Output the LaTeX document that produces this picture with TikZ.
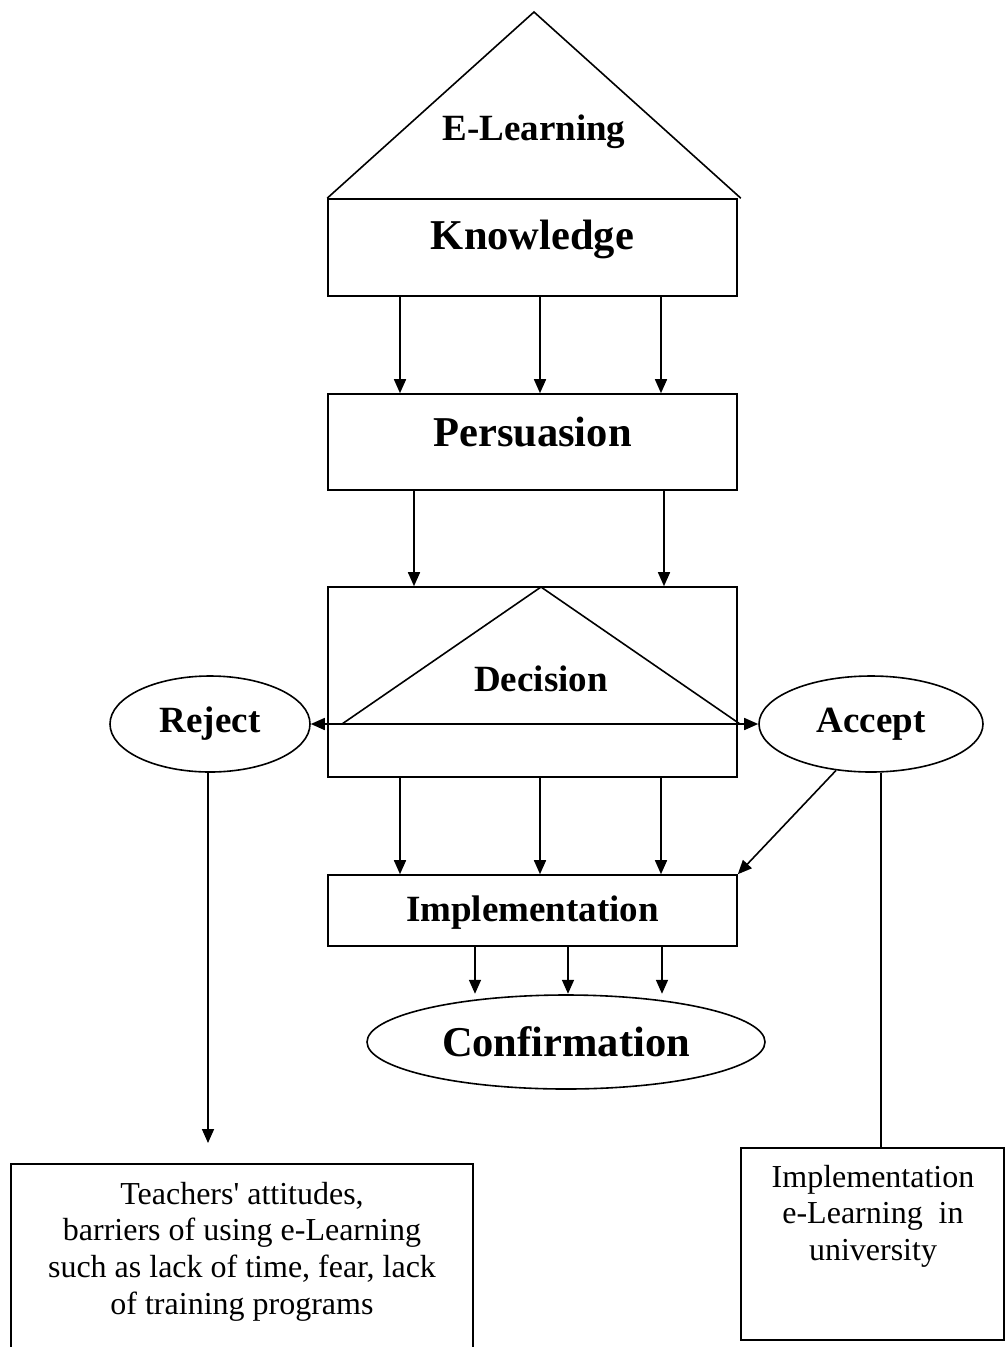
\documentclass[tikz,border=0pt]{standalone}
\usepackage{fontspec}
\setmainfont{Liberation Serif}
\usetikzlibrary{arrows.meta,shapes.geometric}
\begin{document}
\begin{tikzpicture}[x=1pt,y=-1pt,
  line width=1.6pt,
  arr/.style={-{Triangle[length=14pt,width=12pt]}},
  dbl/.style={{Triangle[length=14pt,width=12pt]}-{Triangle[length=14pt,width=12pt]}},
  box/.style={draw,rectangle,inner sep=0pt,minimum width=409pt},
  oval/.style={draw,ellipse,inner sep=0pt},
  bigb/.style={font=\fontsize{42.5}{50}\selectfont\bfseries},
  midb/.style={font=\fontsize{37}{44}\selectfont\bfseries},
  body/.style={font=\fontsize{32}{36.8}\selectfont,align=center,inner sep=0pt}
]
\useasboundingbox (0,0) rectangle (1007,1347);
\clip (0,0) rectangle (1007,1347);

% E-Learning roof and Knowledge box
\node[box,minimum height=97pt,bigb,text height=29pt,text depth=26pt] (know) at (532.5,247.5) {Knowledge};
\coordinate (apex) at (534,12);
\draw (know.north west) -- (apex) -- ([xshift=3pt]know.north east);
\node[midb] (elearn) at (534,132) {E-Learning};

% Persuasion
\node[box,minimum height=96pt,bigb,text height=29pt,text depth=21pt] (pers) at (532.5,442) {Persuasion};
\foreach \s in {-132.5,7.5,128.5}
  \draw[arr] ([xshift=\s pt]know.south) -- ([xshift=\s pt]pers.north);

% Decision
\node[box,minimum height=190pt] (dec) at (532.5,682) {};
\foreach \s in {-118.5,131.5}
  \draw[arr] ([xshift=\s pt]pers.south) -- ([xshift=\s pt]dec.north);
\draw (342,724) -- (541,587) -- (740,724) -- cycle;
\node[midb] (dectext) at (541,679) {Decision};

% Reject / Accept
\node[oval,minimum width=200pt,minimum height=96pt,midb] (rej) at (210,724) {Reject};
\node[oval,minimum width=224pt,minimum height=96pt,midb] (acc) at (871,724) {Accept};
\draw[dbl] (rej.east) -- (acc.west);

% Implementation
\node[box,minimum height=71pt,midb,text height=25.5pt,text depth=4pt] (imp) at (532.5,910.5) {Implementation};
\foreach \s in {-132.5,7.5,128.5}
  \draw[arr] ([xshift=\s pt]dec.south) -- ([xshift=\s pt]imp.north);
\draw[arr] (acc.233) -- (imp.north east);

% Confirmation
\node[oval,minimum width=398pt,minimum height=94pt,bigb] (conf) at (566,1042) {Confirmation};
\foreach \s in {-57.5,35.5,129.5}
  \draw[arr] ([xshift=\s pt]imp.south) -- ++(0,47);

% Bottom boxes
\node[draw,rectangle,inner sep=0pt,minimum width=462pt,minimum height=260pt,anchor=north] (lbox) at (242,1163) {};
\node[body,anchor=north] (ltext) at (242,1181) {Teachers\textquotesingle\ attitudes,\\barriers of using e-Learning\\such as lack of time, fear, lack\\of training programs};
\coordinate (rejend) at (208,1143);
\draw[arr] (rej.south -| rejend) -- (rejend);

\node[draw,rectangle,inner sep=0pt,minimum width=263pt,minimum height=192pt,anchor=north] (rbox) at (872.5,1147) {};
\node[body,anchor=north] (rtext) at (873,1164) {Implementation\\e-Learning\ \ in\\university};
\coordinate (accend) at (881,1147);
\draw (acc.south -| accend) -- (accend);
\end{tikzpicture}
\end{document}
